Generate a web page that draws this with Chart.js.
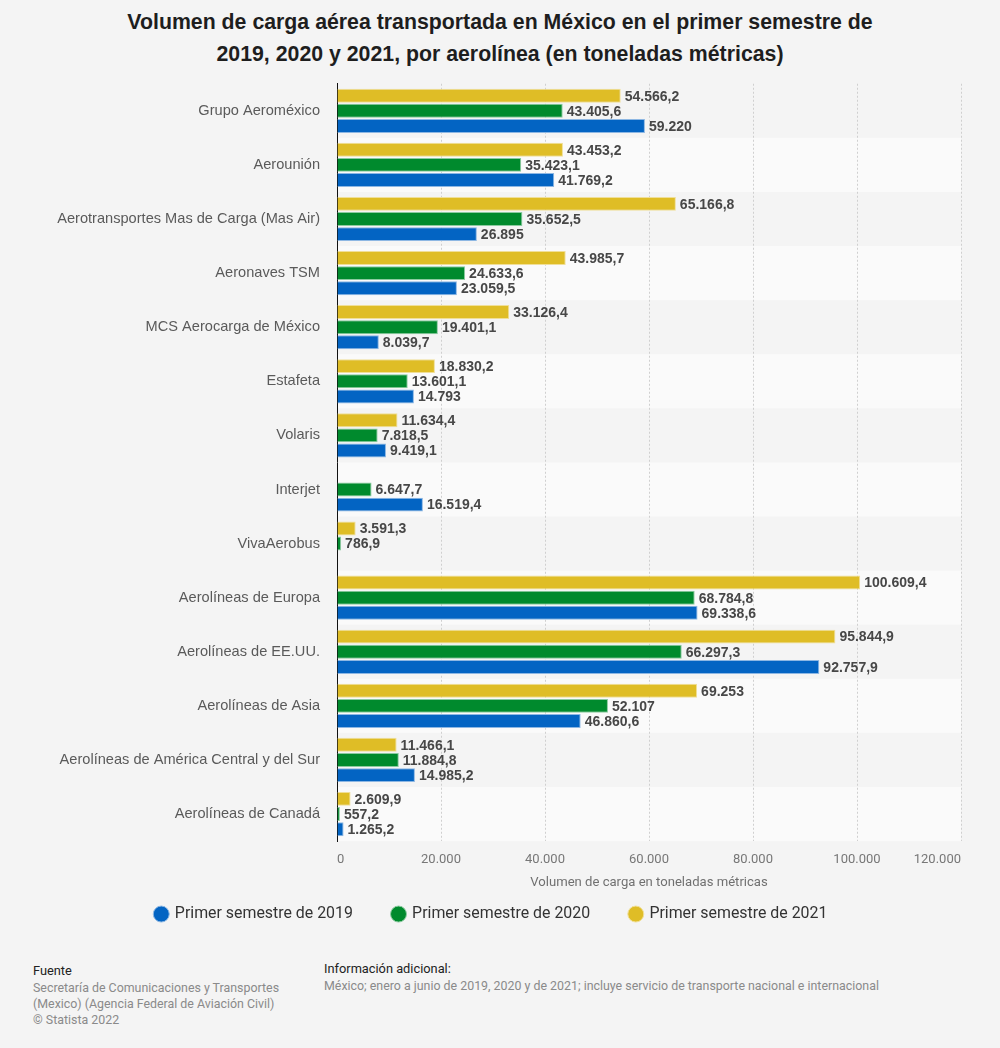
<!DOCTYPE html>
<html>
<head>
<meta charset="utf-8">
<script src="https://cdn.jsdelivr.net/npm/chart.js@4.4.1/dist/chart.umd.min.js"></script>
<style>
  body { margin: 0; background: #f4f4f4; font-family: "Liberation Sans", Arial, sans-serif; }
  #page { position: relative; width: 1000px; height: 1048px; }
  h1 { position: absolute; top: 6px; left: 0; width: 1000px; margin: 0; text-align: center;
       font-size: 21.3px; line-height: 32px; color: #1e1e1e; font-weight: bold; }
  #chartBox { position: absolute; left: 0; top: 58px; width: 1000px; height: 874px; }
  .foot { position: absolute; font-size: 12.4px; line-height: 16px; color: #8a8a8a; font-family: Roboto, sans-serif; }
  .foot b { display: block; font-weight: normal; color: #222; font-size: 12.8px; margin-bottom: 1px; }
</style>
</head>
<body>
<div id="page">
  <h1>Volumen de carga aérea transportada en México en el primer semestre de<br>2019, 2020 y 2021, por aerolínea (en toneladas métricas)</h1>
  <div id="chartBox"><canvas id="cargoChart"></canvas></div>
  <div class="foot" style="left:33px; top:963px;">
    <b>Fuente</b>
    Secretaría de Comunicaciones y Transportes<br>(Mexico) (Agencia Federal de Aviación Civil)<br>© Statista 2022
  </div>
  <div class="foot" style="left:324px; top:961px;">
    <b>Información adicional:</b>
    México; enero a junio de 2019, 2020 y de 2021; incluye servicio de transporte nacional e internacional
  </div>
</div>
<script>
// Data (toneladas métricas)
const airlines = [
  'Grupo Aeroméxico', 'Aerounión', 'Aerotransportes Mas de Carga (Mas Air)', 'Aeronaves TSM',
  'MCS Aerocarga de México', 'Estafeta', 'Volaris', 'Interjet', 'VivaAerobus',
  'Aerolíneas de Europa', 'Aerolíneas de EE.UU.', 'Aerolíneas de Asia',
  'Aerolíneas de América Central y del Sur', 'Aerolíneas de Canadá'
];
const values2019 = [59220, 41769.2, 26895, 23059.5, 8039.7, 14793, 9419.1, 16519.4, null, 69338.6, 92757.9, 46860.6, 14985.2, 1265.2];
const values2020 = [43405.6, 35423.1, 35652.5, 24633.6, 19401.1, 13601.1, 7818.5, 6647.7, 786.9, 68784.8, 66297.3, 52107, 11884.8, 557.2];
const values2021 = [54566.2, 43453.2, 65166.8, 43985.7, 33126.4, 18830.2, 11634.4, null, 3591.3, 100609.4, 95844.9, 69253, 11466.1, 2609.9];
const xTicks = [0, 20000, 40000, 60000, 80000, 100000, 120000];

const fmt = v => v.toLocaleString('de-DE', { maximumFractionDigits: 1 });

// Alternate row shading behind the bars
const rowBands = {
  id: 'rowBands',
  beforeDraw(chart) {
    const { ctx, chartArea, scales } = chart;
    const y = scales.y;
    const step = y.getPixelForValue(1) - y.getPixelForValue(0);
    ctx.save();
    ctx.fillStyle = '#fafafa';
    airlines.forEach((name, i) => {
      if (i % 2 === 1) {
        const c = y.getPixelForValue(i);
        ctx.fillRect(chartArea.left, c - step / 2, chartArea.right - chartArea.left, step);
      }
    });
    ctx.restore();
  }
};

// Value labels at the end of each bar
const valueLabels = {
  id: 'valueLabels',
  afterDatasetsDraw(chart) {
    const { ctx } = chart;
    ctx.save();
    ctx.font = 'bold 14px "Liberation Sans", Arial, sans-serif';
    ctx.fillStyle = '#474747';
    ctx.textAlign = 'left';
    ctx.textBaseline = 'middle';
    chart.data.datasets.forEach((ds, di) => {
      chart.getDatasetMeta(di).data.forEach((bar, i) => {
        const v = ds.data[i];
        if (v === null || v === undefined) return;
        ctx.fillText(fmt(v), bar.x + 4, bar.y + 1);
      });
    });
    ctx.restore();
  }
};

const ctx = document.getElementById('cargoChart').getContext('2d');
new Chart(ctx, {
  type: 'bar',
  data: {
    labels: airlines,
    datasets: [
      { label: 'Primer semestre de 2021', data: values2021, backgroundColor: '#dfbd26', borderColor: '#f0df98', borderWidth: 1 },
      { label: 'Primer semestre de 2020', data: values2020, backgroundColor: '#008a2d', borderColor: '#8ccaa0', borderWidth: 1 },
      { label: 'Primer semestre de 2019', data: values2019, backgroundColor: '#0364c3', borderColor: '#8db7e3', borderWidth: 1 }
    ]
  },
  options: {
    indexAxis: 'y',
    responsive: true,
    maintainAspectRatio: false,
    animation: false,
    layout: { padding: { top: 0, right: 39, left: 22, bottom: 0 } },
    datasets: { bar: { categoryPercentage: 0.84, barPercentage: 0.92 } },
    scales: {
      x: {
        min: 0,
        max: 120000,
        afterBuildTicks: scale => { scale.ticks = xTicks.map(v => ({ value: v })); },
        afterFit: scale => { scale.height = 25; },
        ticks: {
          color: '#777',
          font: { family: 'Roboto, sans-serif', size: 13 },
          padding: 11,
          align: 'inner',
          callback: v => fmt(v)
        },
        grid: {
          color: ctx => ctx.tick && ctx.tick.value === 0 ? 'rgba(0,0,0,0)' : '#cfcfcf',
          lineWidth: 1,
          drawTicks: false
        },
        border: { display: false, dash: [2, 2] },
        title: {
          display: true,
          text: 'Volumen de carga en toneladas métricas',
          color: '#707070',
          font: { family: 'Roboto, sans-serif', size: 13.1 },
          padding: { top: 0, bottom: -24 }
        }
      },
      y: {
        afterFit: scale => { scale.width = 315; },
        ticks: {
          color: '#5a5a5a',
          font: { family: '"Liberation Sans", Arial, sans-serif', size: 14.6 },
          padding: 17
        },
        grid: { display: false, drawTicks: false },
        border: { display: true, color: '#111', width: 1 }
      }
    },
    plugins: {
      legend: {
        position: 'bottom',
        reverse: true,
        labels: {
          usePointStyle: true,
          pointStyle: 'circle',
          boxWidth: 11.3,
          boxHeight: 11.3,
          padding: 40,
          color: '#333',
          font: { family: 'Roboto, sans-serif', size: 15.9 }
        }
      },
      tooltip: { enabled: false }
    }
  },
  plugins: [rowBands, valueLabels]
});
</script>
</body>
</html>
